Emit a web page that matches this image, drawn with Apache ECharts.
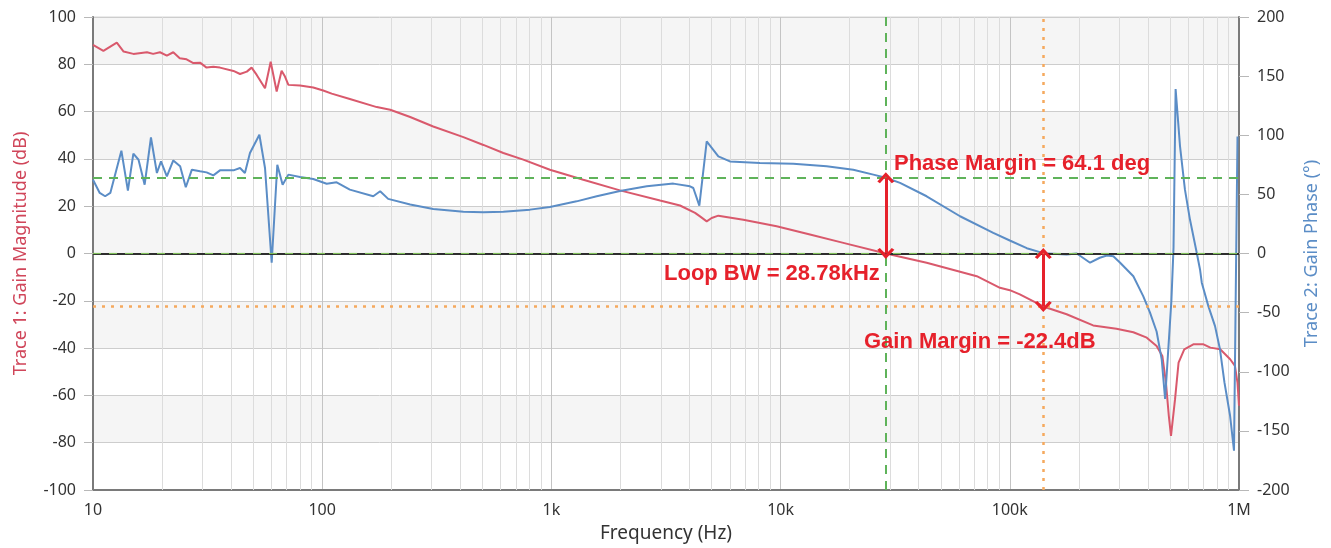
<!DOCTYPE html>
<html><head><meta charset="utf-8">
<script src="https://cdn.jsdelivr.net/npm/echarts@6/dist/echarts.min.js"></script>
<style>html,body{margin:0;padding:0;background:#fff}#c{width:1331px;height:548px}</style>
</head><body><div id="c"></div>
<script>
// ---- data ----
const gainFreq = [10,11.1,12.7,13.6,15.0,17.2,18.3,19.6,21.0,22.4,23.9,25.6,27.4,29.3,31.3,33.5,35.8,41.0,43.8,46.9,49.2,51.8,56.3,59.6,63.3,66.5,68.8,71.2,80.0,91.4,101,110,132,173,198,242,305,413,505,617,754,985,1378,1991,2979,3640,4234,4450,4760,5003,5350,6877,9610,13430,18780,28780,43370,71750,90600,100000,110600,140000,177000,231000,292000,346000,396000,437000,463000,480000,494000,505000,526000,545000,577000,632000,700000,750000,828000,915000,960000,985000,1000000];
const gainDb = [88.2,85.7,89.2,85.4,84.4,85.1,84.4,85.1,83.7,85.1,82.6,82.1,80.5,80.7,78.6,79.0,78.6,77.2,75.9,76.9,78.6,75.5,69.9,81.1,68.5,77.3,74.8,71.3,71.0,70.2,68.9,67.6,65.3,61.9,60.8,57.7,53.7,49.2,45.9,42.5,39.7,35.4,31.2,26.7,22.4,20.3,17.2,15.7,13.6,15.0,16.0,14.3,11.5,8.0,4.5,0,-3.9,-9.6,-14.5,-15.5,-17.3,-22.4,-25.7,-30.4,-31.8,-33.3,-35.6,-39.1,-43.3,-54.6,-68.6,-77.1,-61.6,-46.1,-40.5,-38.4,-38.4,-39.8,-40.5,-44.7,-47.5,-54.6,-64.4];
const phaseFreq = [10,10.7,11.3,11.9,13.3,14.2,15.0,15.8,16.8,17.9,19.0,19.8,21.0,22.4,24.0,25.4,27.0,29.3,31.3,33.5,35.8,41.0,43.8,46.0,48.4,53.2,56.3,60.2,63.7,67.2,71.2,80.0,91.4,104.6,115.6,132,167,179,194,242,305,413,505,617,807,985,1288,1577,1991,2606,3404,4024,4160,4420,4760,5350,6010,8128,11360,15880,20750,25390,28780,33200,43370,60670,84700,100000,118600,140000,177000,196000,224000,247000,265000,283000,303000,346000,382000,409000,437000,460000,476000,507000,518000,529000,553000,581000,611000,654000,676000,688000,735000,786000,826000,864000,914000,951000,985000];
const phaseDeg = [62.4,51.2,48.4,51.2,86.9,53.2,84.4,79.3,58.2,98.1,68.1,77.9,65.2,78.7,73.7,56.0,70.9,69.5,68.6,66.1,70.3,70.3,72.3,68.1,85.0,100.4,72.3,-7.8,75.1,58.2,66.7,64.7,63.0,59.0,60.2,54.0,48.4,52.6,46.2,41.4,37.7,35.4,34.9,35.4,37.1,39.4,44.1,48.4,52.9,56.8,59.1,56.8,55.4,40.5,94.8,82.1,77.9,76.5,75.9,73.7,70.9,66.7,64.1,59.7,48.4,31.5,17.5,11.0,4.5,0.3,-0.8,0,-7.8,-3.6,-1.7,-2.3,-7.8,-19.2,-36,-50,-66,-89.5,-123,-40,5,139,90.6,54,28.7,0.6,-13.5,-24.7,-44.5,-61.4,-81,-109,-137,-166.8,99];
const xTickValues = [10,100,1000,10000,100000,1000000];
const xTickLabels = ['10','100','1k','10k','100k','1M'];
const loopBwHz = 28780, phaseMarginDeg = 64.1, gainMarginHz = 140000, gainMarginDb = -22.4;

// ---- chart ----
const minorFreqs = [];
for (let d = 10; d < 1e6; d *= 10) for (let k = 2; k <= 9; k++) minorFreqs.push(k * d);

const RED = '#e6212b';
const ORANGE = '#f5a95e';
const GREEN = '#5fb35a';
const chevron = 'path://M0,11 L10,0 L20,11 L17,13 L10,5.5 L3,13 Z';
const FONT = '"Noto Sans", "DejaVu Sans", sans-serif';

const chart = echarts.init(document.getElementById('c'), null, {renderer: 'canvas'});
chart.setOption({
  animation: false,
  backgroundColor: '#ffffff',
  textStyle: {fontFamily: FONT},
  grid: {left: 93, right: 92, top: 17, bottom: 54, show: true, borderColor: '#d6d6d6', borderWidth: 1, backgroundColor: 'transparent'},
  xAxis: {
    type: 'log', logBase: 10, min: 10, max: 1e6,
    name: 'Frequency (Hz)', nameLocation: 'middle', nameGap: 34,
    nameTextStyle: {color: '#333', fontSize: 19, fontFamily: FONT},
    axisLine: {show: true, onZero: false, lineStyle: {color: '#7a7a7a', width: 2}},
    axisTick: {show: false},
    axisLabel: {color: '#333', fontSize: 16, margin: 12, fontFamily: FONT,
      formatter: v => { const i = xTickValues.indexOf(Math.round(v)); return i >= 0 ? xTickLabels[i] : ''; }},
    splitLine: {show: true, lineStyle: {color: '#c4c4c4', width: 1}}
  },
  yAxis: [{
    type: 'value', min: -100, max: 100, interval: 20, position: 'left',
    name: 'Trace 1: Gain Magnitude (dB)', nameLocation: 'middle', nameGap: 63,
    nameTextStyle: {color: '#d0465a', fontSize: 18, fontFamily: FONT},
    axisLine: {show: true, onZero: false, lineStyle: {color: '#7a7a7a', width: 2}},
    axisTick: {show: true, length: 9, lineStyle: {color: '#b8b8b8'}},
    axisLabel: {color: '#333', fontSize: 16, margin: 17, fontFamily: FONT},
    splitLine: {show: true, lineStyle: {color: '#cdcdcd', width: 1}},
    splitArea: {show: true, areaStyle: {color: ['#ffffff', '#f5f5f5']}}
  }, {
    type: 'value', min: -200, max: 200, interval: 50, position: 'right',
    name: 'Trace 2: Gain Phase (°)', nameLocation: 'middle', nameGap: 64, nameRotate: 90,
    nameTextStyle: {color: '#5b8dc6', fontSize: 18, fontFamily: FONT},
    axisLine: {show: true, onZero: false, lineStyle: {color: '#7a7a7a', width: 2}},
    axisTick: {show: true, length: 10, lineStyle: {color: '#b8b8b8'}},
    axisLabel: {color: '#333', fontSize: 16, margin: 18, fontFamily: FONT},
    splitLine: {show: false}
  }],
  series: [{
    type: 'line', data: [], z: 1, silent: true,
    markLine: {silent: true, z: 1, symbol: 'none', animation: false, label: {show: false},
      lineStyle: {color: '#dcdcdc', width: 1, type: 'solid'},
      data: minorFreqs.map(f => ({xAxis: f}))}
  }, {
    name: 'Gain', type: 'line', yAxisIndex: 0, z: 3, showSymbol: false, symbol: 'none',
    lineStyle: {color: '#d9596c', width: 2}, itemStyle: {color: '#d9596c'},
    data: gainFreq.map((f, i) => [f, gainDb[i]]),
    markLine: {silent: true, z: 4, symbol: 'none', animation: false, label: {show: false},
      data: [
        {yAxis: 0, lineStyle: {color: '#2e2e2e', width: 2, type: 'solid'}},
        {yAxis: 0, lineStyle: {color: '#7fbf5a', width: 1.2, type: [8, 8]}},
        {yAxis: gainMarginDb, lineStyle: {color: ORANGE, width: 2.5, type: [3, 6]}},
        {xAxis: gainMarginHz, lineStyle: {color: ORANGE, width: 2.5, type: [3, 6]}},
        {xAxis: loopBwHz, lineStyle: {color: GREEN, width: 2, type: [9, 7]}},
        [{coord: [gainMarginHz, 0], symbol: chevron, symbolSize: [17, 11]},
         {coord: [gainMarginHz, gainMarginDb], symbol: chevron, symbolSize: [17, 11],
          lineStyle: {color: RED, width: 3, type: 'solid'}}]
      ]}
  }, {
    name: 'Phase', type: 'line', yAxisIndex: 1, z: 3, showSymbol: false, symbol: 'none',
    lineStyle: {color: '#5b8dc6', width: 2}, itemStyle: {color: '#5b8dc6'},
    data: phaseFreq.map((f, i) => [f, phaseDeg[i]]),
    markLine: {silent: true, z: 4, symbol: 'none', animation: false, label: {show: false},
      data: [
        {yAxis: phaseMarginDeg, lineStyle: {color: GREEN, width: 2, type: [9, 7]}},
        [{coord: [loopBwHz, 0], symbol: chevron, symbolSize: [17, 11]},
         {coord: [loopBwHz, phaseMarginDeg], symbol: chevron, symbolSize: [17, 11],
          lineStyle: {color: RED, width: 3, type: 'solid'}}]
      ]}
  }],
  graphic: [
    {type: 'text', left: 894, top: 153, z: 10, style: {text: 'Phase Margin = 64.1 deg', fill: RED, font: 'bold 22px "Liberation Sans", Arial, sans-serif'}},
    {type: 'text', left: 664, top: 263, z: 10, style: {text: 'Loop BW = 28.78kHz', fill: RED, font: 'bold 22px "Liberation Sans", Arial, sans-serif'}},
    {type: 'text', left: 864, top: 331, z: 10, style: {text: 'Gain Margin = -22.4dB', fill: RED, font: 'bold 22px "Liberation Sans", Arial, sans-serif'}}
  ]
});
</script></body></html>
